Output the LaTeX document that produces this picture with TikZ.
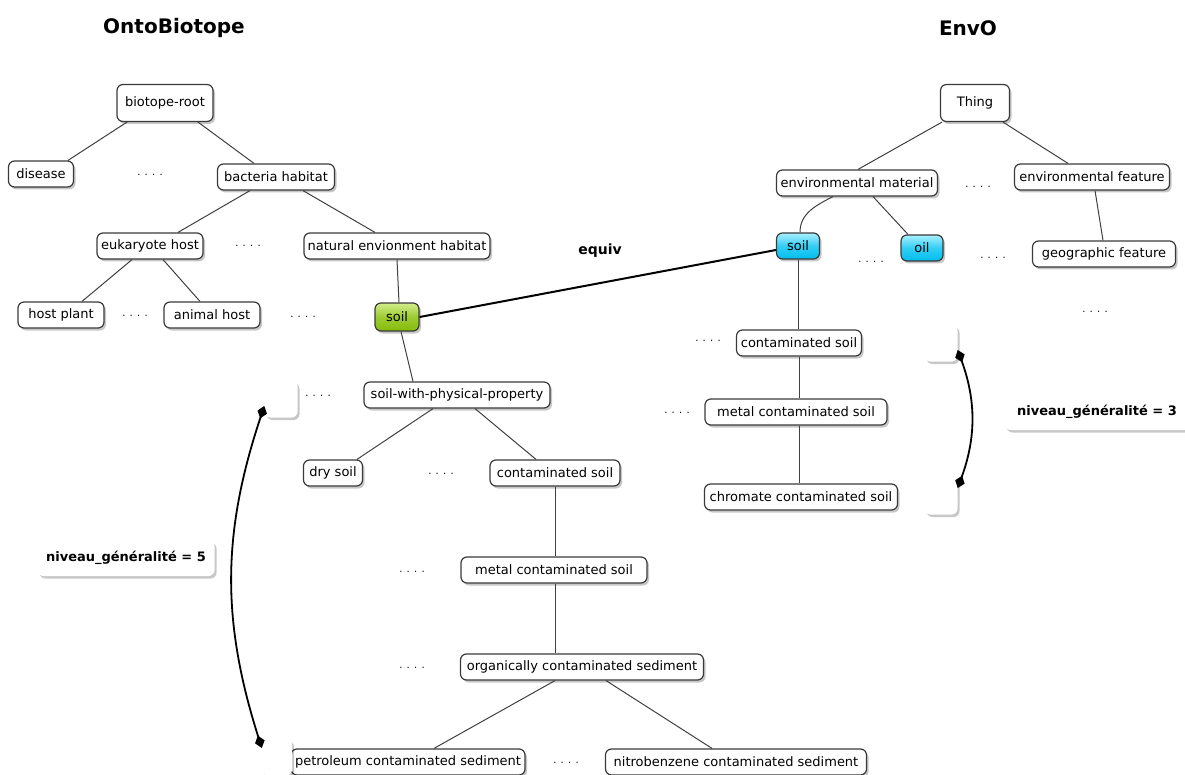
\documentclass[tikz,border=0pt]{standalone}
\usepackage{fontspec}
\setmainfont{DejaVu Sans}
\usetikzlibrary{shadows,arrows.meta,calc}
\definecolor{bordc}{HTML}{3A3A3A}
\definecolor{gtop}{HTML}{D2EE8C}
\definecolor{gbot}{HTML}{86BC0A}
\definecolor{ctop}{HTML}{A8F0FF}
\definecolor{cbot}{HTML}{00BEEE}
\tikzset{
  x=1pt, y=1pt,
  shad/.style={drop shadow={shadow xshift=2pt, shadow yshift=-2.5pt, fill=black, opacity=0.22}},
  bx/.style={draw=bordc, line width=1.2pt, rounded corners=6pt, fill=white, shad,
    inner xsep=3pt, inner ysep=0pt, minimum height=26pt,
    font=\fontsize{13}{15}\selectfont},
  greenbx/.style={bx, fill=none, top color=gtop, bottom color=gbot, middle color=gbot!70!gtop},
  cyanbx/.style={bx, fill=none, top color=ctop, bottom color=cbot, middle color=cbot!70!ctop},
  blank/.style={fill=white, rounded corners=6pt, shad, minimum width=33pt, minimum height=37pt},
  lvlbox/.style={fill=white, rounded corners=6pt, shad, minimum height=36pt,
    font=\bfseries\fontsize{13}{15}\selectfont},
  ttl/.style={font=\bfseries\fontsize{20}{24}\selectfont},
  dts/.style={font=\fontsize{10}{12}\selectfont},
  edge/.style={draw=black!75, line width=1pt},
  eqv/.style={draw=black, line width=2pt},
  lvl/.style={draw=black, line width=1.8pt, {Diamond[length=13pt,width=10pt]}-{Diamond[length=13pt,width=10pt]}}
}
\begin{document}
\begin{tikzpicture}
\useasboundingbox (0,0) rectangle (1185,-775);
% titles
\node[ttl] (t1) at (174,-28) {OntoBiotope};
\node[ttl] (t2) at (968,-28) {EnvO};
% OntoBiotope tree
\node[bx, minimum width=96pt, minimum height=37pt] (root) at (165,-103) {biotope-root};
\node[bx, minimum width=65pt] (dis) at (41,-174) {disease};
\node[bx, minimum width=117pt] (bact) at (276,-177) {bacteria habitat};
\node[bx, minimum width=106pt] (euk) at (150,-246) {eukaryote host};
\node[bx, minimum width=186pt] (nat) at (397,-246) {natural envionment habitat};
\node[bx, minimum width=86pt] (hp) at (61,-315) {host plant};
\node[bx, minimum width=96pt] (ah) at (212,-315) {animal host};
\node[greenbx, minimum width=44pt, minimum height=28pt] (soilA) at (397,-317) {soil};
\node[bx, minimum width=186pt] (swpp) at (457,-395) {soil-with-physical-property};
\node[bx, minimum width=59pt] (dry) at (333,-473) {dry soil};
\node[bx, minimum width=130pt] (cs) at (555,-473) {contaminated soil};
\node[bx, minimum width=186pt] (mcs) at (554,-570) {metal contaminated soil};
\node[bx, minimum width=243pt] (ocs) at (582,-667) {organically contaminated sediment};
\node[bx, minimum width=234pt] (pcs) at (408,-762) {petroleum contaminated sediment};
\node[bx, minimum width=261pt] (ncs) at (736,-762) {nitrobenzene contaminated sediment};
% EnvO tree
\node[bx, minimum width=69pt, minimum height=37pt] (thing) at (975,-103) {Thing};
\node[bx, minimum width=161pt] (em) at (857,-183) {environmental material};
\node[bx, minimum width=155pt] (ef) at (1092,-177) {environmental feature};
\node[cyanbx, minimum width=43pt] (soilB) at (798,-246) {soil};
\node[cyanbx, minimum width=42pt] (oil) at (922,-248) {oil};
\node[bx, minimum width=143pt] (geo) at (1104,-254) {geographic feature};
\node[bx, minimum width=125pt] (cs2) at (799,-343) {contaminated soil};
\node[bx, minimum width=182pt] (mcs2) at (796,-412) {metal contaminated soil};
\node[bx, minimum width=193pt] (ccs) at (801,-497) {chromate contaminated soil};
% dots
\node[dts] (d1) at (150,-175) {. . . .};
\node[dts] (d2) at (248,-246) {. . . .};
\node[dts] (d3) at (135,-316) {. . . .};
\node[dts] (d4) at (303,-317) {. . . .};
\node[dts] (d5) at (318,-396) {. . . .};
\node[dts] (d6) at (441,-474) {. . . .};
\node[dts] (d7) at (412,-572) {. . . .};
\node[dts] (d8) at (412,-668) {. . . .};
\node[dts] (d9) at (566,-763) {. . . .};
\node[dts] (d10) at (978,-187) {. . . .};
\node[dts] (d11) at (871,-262) {. . . .};
\node[dts] (d12) at (993,-258) {. . . .};
\node[dts] (d13) at (1095,-312) {. . . .};
\node[dts] (d14) at (708,-341) {. . . .};
\node[dts] (d15) at (677,-413) {. . . .};
% blank boxes and level labels
\node[blank] (bl1) at (281,-399) {};
\node[blank, minimum width=30pt] (bl2) at (277,-757) {};
\node[blank] (br1) at (941,-343) {};
\node[blank] (br2) at (941,-496) {};
\node[lvlbox, minimum width=177pt] (niv5) at (126,-558) {niveau\_généralité = 5};
\node[lvlbox, minimum width=185pt] (niv3) at (1097,-412) {niveau\_généralité = 3};
% OntoBiotope edges
\draw[edge] ([xshift=-38pt]root.south) -- ([xshift=27pt]dis.north);
\draw[edge] ([xshift=33pt]root.south) -- ([xshift=-22pt]bact.north);
\draw[edge] ([xshift=-26pt]bact.south) -- ([xshift=28pt]euk.north);
\draw[edge] ([xshift=27pt]bact.south) -- ([xshift=-22pt]nat.north);
\draw[edge] ([xshift=-18pt]euk.south) -- ([xshift=21pt]hp.north);
\draw[edge] ([xshift=13pt]euk.south) -- ([xshift=-12pt]ah.north);
\draw[edge] (nat.south) -- ([xshift=2pt]soilA.north);
\draw[edge] ([xshift=4pt]soilA.south) -- ([xshift=-44pt]swpp.north);
\draw[edge] ([xshift=-24pt]swpp.south) -- ([xshift=24pt]dry.north);
\draw[edge] ([xshift=18pt]swpp.south) -- ([xshift=-19pt]cs.north);
\draw[edge] (cs.south) -- (cs.south |- mcs.north);
\draw[edge] ([xshift=1pt]mcs.south) -- ([xshift=1pt]mcs.south |- ocs.north);
\draw[edge] ([xshift=-27pt]ocs.south) -- ([xshift=26pt]pcs.north);
\draw[edge] ([xshift=24pt]ocs.south) -- ([xshift=-24pt]ncs.north);
% EnvO edges
\draw[edge] ([xshift=-33pt]thing.south) -- ([xshift=1pt]em.north);
\draw[edge] ([xshift=28pt]thing.south) -- ([xshift=-24pt]ef.north);
\draw[edge] ([xshift=3pt]ef.south) -- ([xshift=-1pt]geo.north);
\draw[edge] ([xshift=-24pt]em.south) to[out=207, in=90] ([xshift=2pt]soilB.north);
\draw[edge] ([xshift=16pt]em.south) -- ([xshift=-14pt]oil.north);
\draw[edge] (soilB.south) -- (soilB.south |- cs2.north);
\draw[edge] (cs2.south) -- (cs2.south |- mcs2.north);
\draw[edge] ([xshift=3pt]mcs2.south) -- ([xshift=3pt]mcs2.south |- ccs.north);
% equivalence
\draw[eqv] (soilA.east) -- ([yshift=-4pt]soilB.west);
\node[font=\bfseries\fontsize{14}{16}\selectfont] (eq) at (600,-251) {equiv};
% level arcs
\draw[lvl] ([yshift=-7pt]bl1.west) to[bend right=18] ([yshift=9pt]bl2.west);
\draw[lvl] ([yshift=-7pt]br1.east) to[bend left=20] ([yshift=8pt]br2.east);
\end{tikzpicture}
\end{document}
